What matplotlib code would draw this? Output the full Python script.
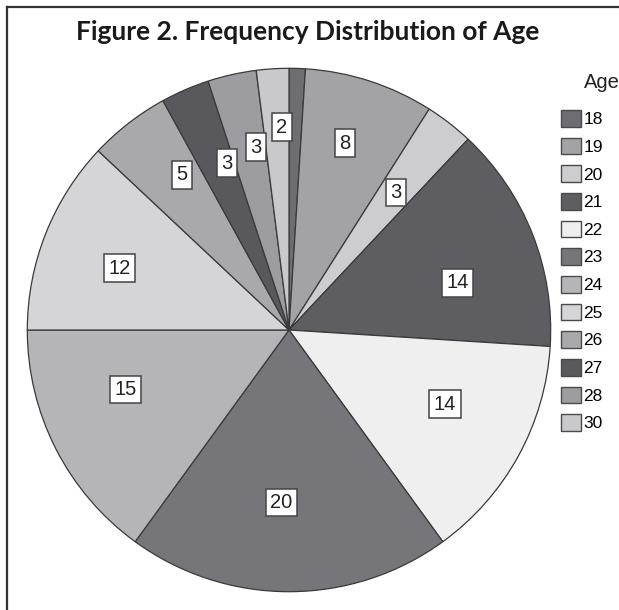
import matplotlib.pyplot as plt
import numpy as np
from matplotlib.lines import Line2D
from matplotlib.patches import Patch

# --- data (percent of respondents by age) ---
ages = ["18", "19", "20", "21", "22", "23", "24", "25", "26", "27", "28", "30"]
percent = [1, 8, 3, 14, 14, 20, 15, 12, 5, 3, 3, 2]

# --- style ---
slice_colors = [
    "#6e6e72", "#a3a3a6", "#cdcdd0", "#5e5e62", "#efefef", "#76767a",
    "#b5b5b8", "#d5d5d7", "#a9a9ac", "#59595d", "#9d9da1", "#c9c9cc",
]
# label placement: radius (fraction of pie radius) and small angle nudge (deg)
label_radius = [0.0, 0.745, 0.665, 0.67, 0.66, 0.66, 0.665, 0.69, 0.72, 0.68, 0.71, 0.775]
label_nudge = [0, 1.3, 0, -6, 3.4, -2.6, -7, 1.6, -3.2, -2.9, -2.4, -1.6]
EDGE = "#3a3a3a"

plt.rcParams["font.family"] = ["Liberation Sans", "DejaVu Sans"]

fig = plt.figure(figsize=(6.19, 6.10), dpi=100)
W, H = 619, 610

# pie axes: centre ~ (289, 330) px, radius ~262 px
ax = fig.add_axes([(289 - 263) / W, (H - 330 - 263) / H, 526 / W, 526 / H])
wedges, _ = ax.pie(
    percent,
    colors=slice_colors,
    startangle=90,
    counterclock=False,
    radius=1.0,
    wedgeprops=dict(edgecolor=EDGE, linewidth=0.9),
)
ax.set_xlim(-1.005, 1.005)
ax.set_ylim(-1.005, 1.005)
ax.set_aspect("equal")
ax.axis("off")

# value labels in white boxes
for w, val, r, dn in zip(wedges, percent, label_radius, label_nudge):
    if val < 2:
        continue
    mid = np.deg2rad((w.theta1 + w.theta2) / 2 + dn)
    ax.text(
        r * np.cos(mid), r * np.sin(mid), str(val),
        ha="center", va="center", fontsize=14.5, color="#222222",
        bbox=dict(boxstyle="square,pad=0.22", facecolor="white",
                  edgecolor="#444444", linewidth=1.1),
    )

# legend
handles = [Patch(facecolor=c, edgecolor="#4a4a4a", linewidth=1.0) for c in slice_colors]
fig.legend(
    handles, ages,
    loc="upper left", bbox_to_anchor=(561 / W, 1 - 110 / H),
    frameon=False, fontsize=12.5, handlelength=1.15, handleheight=1.1,
    handletextpad=0.15, labelspacing=0.6, borderaxespad=0, borderpad=0,
)
fig.text(584 / W, 1 - 82 / H, "Age", fontsize=14.5, ha="left", va="center", color="#222222")

# title
fig.text(308 / W, 1 - 32 / H, "Figure 2. Frequency Distribution of Age",
         ha="center", va="center", fontsize=19, fontweight="bold",
         family=["Lato", "DejaVu Sans"], color="#1a1a1a")

# frame lines (left and top)
fig.add_artist(Line2D([7 / W, 7 / W], [0, 1 - 7 / H], transform=fig.transFigure,
                      color="#333333", linewidth=1.6))
fig.add_artist(Line2D([7 / W, 1], [1 - 7 / H, 1 - 7 / H], transform=fig.transFigure,
                      color="#333333", linewidth=1.6))

fig.savefig("out.png", dpi=100)
